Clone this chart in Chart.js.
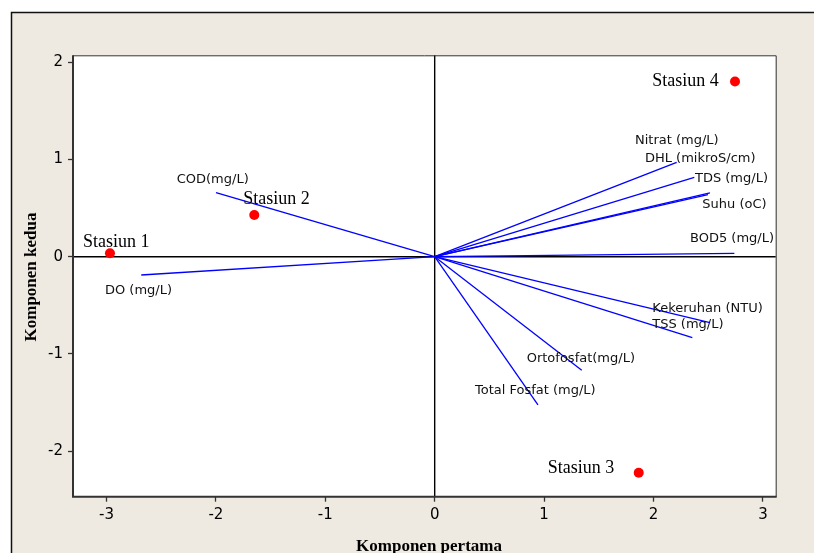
<!DOCTYPE html>
<html>
<head>
<meta charset="utf-8">
<script src="https://cdn.jsdelivr.net/npm/chart.js@4.4.1/dist/chart.umd.min.js"></script>
<style>
html,body{margin:0;padding:0;background:#fff;}
#wrap{width:814px;height:553px;position:relative;}
</style>
</head>
<body>
<div id="wrap"><canvas id="c"></canvas></div>
<script>
// ---- data ----
const xTicks = [-3, -2, -1, 0, 1, 2, 3];
const yTicks = [-2, -1, 0, 1, 2];
const xRange = [-3.306, 3.117];
const yRange = [-2.467, 2.07];

const stations = ['Stasiun 1', 'Stasiun 2', 'Stasiun 3', 'Stasiun 4'];
const stationPC1 = [-2.968, -1.649, 1.865, 2.745];
const stationPC2 = [0.035, 0.429, -2.22, 1.80];
const stationLabelX = [-3.215, -1.750, 1.033, 1.989];
const stationLabelY = [0.097, 0.542, -2.226, 1.754];

const variables = ['COD(mg/L)', 'DO (mg/L)', 'Nitrat (mg/L)', 'DHL (mikroS/cm)', 'TDS (mg/L)', 'Suhu (oC)', 'BOD5 (mg/L)', 'Kekeruhan (NTU)', 'TSS (mg/L)', 'Ortofosfat(mg/L)', 'Total Fosfat (mg/L)'];
const loadPC1 = [-1.999, -2.682, 2.212, 2.498, 2.373, 2.516, 2.739, 2.516, 2.355, 1.344, 0.944];
const loadPC2 = [0.658, -0.188, 0.970, 0.639, 0.816, 0.655, 0.035, -0.678, -0.832, -1.168, -1.524];
const varLabelX = [-2.358, -3.014, 1.831, 1.922, 2.379, 2.446, 2.334, 1.989, 1.989, 0.841, 0.368];
const varLabelY = [0.761, -0.386, 1.158, 0.970, 0.771, 0.497, 0.148, -0.565, -0.730, -1.079, -1.414];

const xTitle = 'Komponen pertama';
const yTitle = 'Komponen kedua';

// ---- datasets ----
const datasets = variables.map((v, i) => ({
  label: v,
  data: [{x: 0, y: 0}, {x: loadPC1[i], y: loadPC2[i]}],
  showLine: true,
  borderColor: '#0000FF',
  borderWidth: 1.3,
  pointRadius: 0,
  fill: false
}));
datasets.push({
  label: 'Stasiun',
  data: stations.map((s, i) => ({x: stationPC1[i], y: stationPC2[i]})),
  showLine: false,
  backgroundColor: '#FF0000',
  borderColor: '#FF0000',
  borderWidth: 0,
  pointRadius: 5
});

const decor = {
  id: 'decor',
  beforeDraw(chart) {
    const ctx = chart.ctx, a = chart.chartArea;
    ctx.save();
    ctx.fillStyle = '#ffffff';
    ctx.fillRect(0, 0, chart.width, chart.height);
    ctx.fillStyle = '#EEEAE1';
    ctx.fillRect(11, 12, chart.width, chart.height);
    ctx.strokeStyle = '#111';
    ctx.lineWidth = 1.5;
    ctx.beginPath();
    ctx.moveTo(11.5, chart.height + 5);
    ctx.lineTo(11.5, 12.5);
    ctx.lineTo(chart.width + 5, 12.5);
    ctx.stroke();
    ctx.fillStyle = '#ffffff';
    ctx.fillRect(a.left, a.top, a.right - a.left, a.bottom - a.top);
    ctx.restore();
  },
  beforeDatasetsDraw(chart) {
    const ctx = chart.ctx, a = chart.chartArea;
    const x0 = chart.scales.x.getPixelForValue(0);
    const y0 = chart.scales.y.getPixelForValue(0);
    ctx.save();
    ctx.strokeStyle = '#000';
    ctx.lineWidth = 1.4;
    ctx.beginPath();
    ctx.moveTo(x0, a.top); ctx.lineTo(x0, a.bottom);
    ctx.moveTo(a.left, y0); ctx.lineTo(a.right, y0);
    ctx.stroke();
    ctx.restore();
  },
  afterDatasetsDraw(chart) {
    const ctx = chart.ctx, a = chart.chartArea;
    const sx = chart.scales.x, sy = chart.scales.y;
    ctx.save();
    // frame
    ctx.strokeStyle = '#333';
    ctx.lineWidth = 1;
    ctx.beginPath();
    ctx.moveTo(a.left, a.top + 0.5); ctx.lineTo(a.right + 0.5, a.top + 0.5); ctx.lineTo(a.right + 0.5, a.bottom);
    ctx.stroke();
    ctx.lineWidth = 2;
    ctx.beginPath();
    ctx.moveTo(a.left, a.top); ctx.lineTo(a.left, a.bottom); ctx.lineTo(a.right + 1, a.bottom);
    ctx.stroke();
    // variable labels
    ctx.fillStyle = '#111';
    ctx.font = '13px "DejaVu Sans"';
    ctx.textAlign = 'left';
    ctx.textBaseline = 'alphabetic';
    variables.forEach((v, i) => {
      ctx.fillText(v, sx.getPixelForValue(varLabelX[i]), sy.getPixelForValue(varLabelY[i]));
    });
    // station labels
    ctx.fillStyle = '#000';
    ctx.font = '18px "Liberation Serif"';
    stations.forEach((s, i) => {
      ctx.fillText(s, sx.getPixelForValue(stationLabelX[i]), sy.getPixelForValue(stationLabelY[i]));
    });
    ctx.restore();
  },
  afterDraw(chart) {
    const ctx = chart.ctx, a = chart.chartArea;
    ctx.save();
    ctx.fillStyle = '#000';
    ctx.font = 'bold 17px "Liberation Serif"';
    ctx.textAlign = 'center';
    ctx.textBaseline = 'alphabetic';
    ctx.fillText(xTitle, 429, 551);
    ctx.translate(36, 277);
    ctx.rotate(-Math.PI / 2);
    ctx.fillText(yTitle, 0, 0);
    ctx.restore();
  }
};

const tickFont = {family: '"DejaVu Sans"', size: 15};

new Chart(document.getElementById('c'), {
  type: 'scatter',
  data: {datasets},
  options: {
    animation: false,
    responsive: true,
    maintainAspectRatio: false,
    layout: {padding: {left: 0, top: 55.3, right: 38.3, bottom: 0}},
    plugins: {legend: {display: false}, tooltip: {enabled: false}},
    scales: {
      x: {
        type: 'linear',
        min: xRange[0], max: xRange[1],
        afterBuildTicks: s => { s.ticks = xTicks.map(v => ({value: v})); },
        afterFit: s => { s.height = 56.3; },
        grid: {display: true, drawOnChartArea: false, drawTicks: true, tickLength: 5, tickColor: '#333', tickWidth: 1.3},
        border: {display: false},
        ticks: {color: '#000', font: tickFont, padding: 4, maxRotation: 0, autoSkip: false, callback: v => String(v)}
      },
      y: {
        type: 'linear',
        min: yRange[0], max: yRange[1],
        afterBuildTicks: s => { s.ticks = yTicks.map(v => ({value: v})); },
        afterFit: s => { s.width = 73; },
        grid: {display: true, drawOnChartArea: false, drawTicks: true, tickLength: 5, tickColor: '#333', tickWidth: 1.3},
        border: {display: false},
        ticks: {color: '#000', font: tickFont, padding: 5, autoSkip: false, callback: v => String(v)}
      }
    }
  },
  plugins: [decor]
});
</script>
</body>
</html>
